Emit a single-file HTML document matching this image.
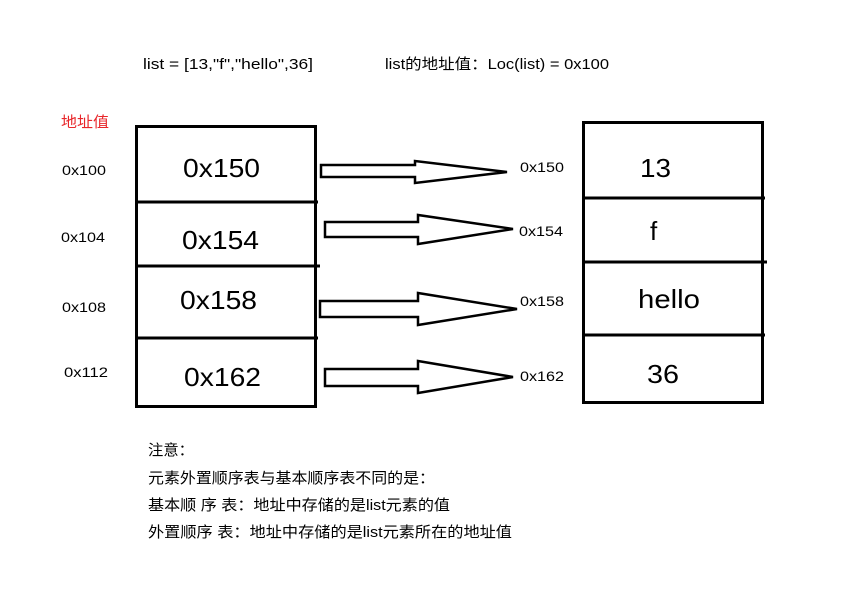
<!DOCTYPE html>
<html><head><meta charset="utf-8">
<style>
html,body{margin:0;padding:0;background:#fff;}
svg{display:block;}
text{font-family:"Liberation Sans","Noto Sans CJK SC",sans-serif;fill:#000;}
</style></head>
<body>
<svg width="856" height="613" viewBox="0 0 856 613" xmlns="http://www.w3.org/2000/svg">
<rect width="856" height="613" fill="#fff"/>
<text x="143" y="69" font-size="15" textLength="170" lengthAdjust="spacingAndGlyphs">list = [13,"f","hello",36]</text>
<text x="385" y="69" font-size="15" textLength="224" lengthAdjust="spacingAndGlyphs">list的地址值：Loc(list) = 0x100</text>
<text x="61" y="127" font-size="15" style="fill:#e8262a" textLength="48" lengthAdjust="spacingAndGlyphs">地址值</text>

<g fill="none" stroke="#000" stroke-width="3">
<rect x="136.5" y="126.5" width="179" height="280"/>
<line x1="136" y1="202" x2="318" y2="202"/>
<line x1="136" y1="266" x2="320" y2="266"/>
<line x1="136" y1="338" x2="318" y2="338"/>
<rect x="583.5" y="122.5" width="179" height="280"/>
<line x1="583" y1="198" x2="765" y2="198"/>
<line x1="583" y1="262" x2="767" y2="262"/>
<line x1="583" y1="335" x2="765" y2="335"/>
</g>

<g font-size="14">
<text x="62" y="175" textLength="44" lengthAdjust="spacingAndGlyphs">0x100</text>
<text x="61" y="242" textLength="44" lengthAdjust="spacingAndGlyphs">0x104</text>
<text x="62" y="312" textLength="44" lengthAdjust="spacingAndGlyphs">0x108</text>
<text x="64" y="377" textLength="44" lengthAdjust="spacingAndGlyphs">0x112</text>
<text x="520" y="172" textLength="44" lengthAdjust="spacingAndGlyphs">0x150</text>
<text x="519" y="236" textLength="44" lengthAdjust="spacingAndGlyphs">0x154</text>
<text x="520" y="306" textLength="44" lengthAdjust="spacingAndGlyphs">0x158</text>
<text x="520" y="381" textLength="44" lengthAdjust="spacingAndGlyphs">0x162</text>
</g>

<g font-size="26">
<text x="183" y="177" textLength="77" lengthAdjust="spacingAndGlyphs">0x150</text>
<text x="182" y="249" textLength="77" lengthAdjust="spacingAndGlyphs">0x154</text>
<text x="180" y="309" textLength="77" lengthAdjust="spacingAndGlyphs">0x158</text>
<text x="184" y="386" textLength="77" lengthAdjust="spacingAndGlyphs">0x162</text>
<text x="640" y="177" textLength="31" lengthAdjust="spacingAndGlyphs">13</text>
<text x="650" y="240">f</text>
<text x="638" y="308" textLength="62" lengthAdjust="spacingAndGlyphs">hello</text>
<text x="647" y="383" textLength="32" lengthAdjust="spacingAndGlyphs">36</text>
</g>

<g fill="#fff" stroke="#000" stroke-width="2.5" stroke-linejoin="miter">
<polygon points="321,165 415,165 415,161 507,172 415,183 415,177 321,177"/>
<polygon points="325,222 418,222 418,215 513,229 418,244 418,237 325,237"/>
<polygon points="320,301 418,301 418,293 517,309 418,325 418,317 320,317"/>
<polygon points="325,369 418,369 418,361 513,377 418,393 418,386 325,386"/>
</g>

<g font-size="15">
<text x="148" y="455" textLength="46" lengthAdjust="spacingAndGlyphs">注意：</text>
<text x="148" y="483" textLength="287" lengthAdjust="spacingAndGlyphs">元素外置顺序表与基本顺序表不同的是：</text>
<text x="148" y="510" textLength="302" lengthAdjust="spacingAndGlyphs">基本顺 序 表：地址中存储的是list元素的值</text>
<text x="148" y="537" textLength="364" lengthAdjust="spacingAndGlyphs">外置顺序 表：地址中存储的是list元素所在的地址值</text>
</g>
</svg>
</body></html>
